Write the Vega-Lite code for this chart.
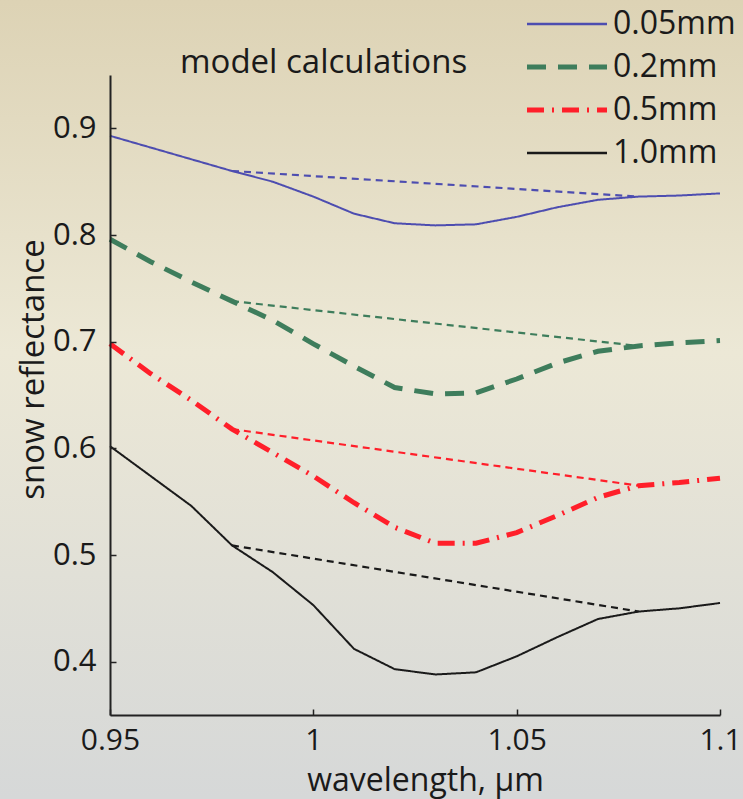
{
  "$schema": "https://vega.github.io/schema/vega-lite/v6.json",
  "autosize": {"type": "none"},
  "width": 610,
  "height": 640,
  "padding": {"left": 110, "top": 75, "right": 23, "bottom": 84},
  "background": "#e6e1cf",
  "title": {"text": "model calculations", "anchor": "start", "frame": "group", "dx": 70, "dy": 112, "offset": 0, "fontSize": 33, "fontWeight": "normal", "font": "Open Sans", "color": "#1a1a1a", "zindex": 2},
  "config": {
    "view": {"stroke": null},
    "font": "Open Sans",
    "axis": {"grid": false, "ticks": true, "domainColor": "#222222", "domainWidth": 2, "tickColor": "#222222", "tickWidth": 1.5, "labelColor": "#1a1a1a", "titleColor": "#1a1a1a", "labelFontSize": 31, "titleFontSize": 32, "titleFontWeight": "normal", "labelFont": "Open Sans", "titleFont": "Open Sans", "labelFlush": false}
  },
  "datasets": {
    "curves": [
      {"size": "0.05mm", "wl": 0.95, "r": 0.893}, {"size": "0.05mm", "wl": 0.96, "r": 0.882}, {"size": "0.05mm", "wl": 0.97, "r": 0.871}, {"size": "0.05mm", "wl": 0.98, "r": 0.86}, {"size": "0.05mm", "wl": 0.99, "r": 0.85}, {"size": "0.05mm", "wl": 1.0, "r": 0.836}, {"size": "0.05mm", "wl": 1.01, "r": 0.82}, {"size": "0.05mm", "wl": 1.02, "r": 0.811}, {"size": "0.05mm", "wl": 1.03, "r": 0.809}, {"size": "0.05mm", "wl": 1.04, "r": 0.81}, {"size": "0.05mm", "wl": 1.05, "r": 0.817}, {"size": "0.05mm", "wl": 1.06, "r": 0.826}, {"size": "0.05mm", "wl": 1.07, "r": 0.833}, {"size": "0.05mm", "wl": 1.08, "r": 0.836}, {"size": "0.05mm", "wl": 1.09, "r": 0.837}, {"size": "0.05mm", "wl": 1.1, "r": 0.839},
      {"size": "0.2mm", "wl": 0.95, "r": 0.796}, {"size": "0.2mm", "wl": 0.96, "r": 0.775}, {"size": "0.2mm", "wl": 0.97, "r": 0.756}, {"size": "0.2mm", "wl": 0.98, "r": 0.738}, {"size": "0.2mm", "wl": 0.99, "r": 0.72}, {"size": "0.2mm", "wl": 1.0, "r": 0.698}, {"size": "0.2mm", "wl": 1.01, "r": 0.677}, {"size": "0.2mm", "wl": 1.02, "r": 0.657}, {"size": "0.2mm", "wl": 1.03, "r": 0.651}, {"size": "0.2mm", "wl": 1.04, "r": 0.652}, {"size": "0.2mm", "wl": 1.05, "r": 0.665}, {"size": "0.2mm", "wl": 1.06, "r": 0.68}, {"size": "0.2mm", "wl": 1.07, "r": 0.691}, {"size": "0.2mm", "wl": 1.08, "r": 0.696}, {"size": "0.2mm", "wl": 1.09, "r": 0.699}, {"size": "0.2mm", "wl": 1.1, "r": 0.701},
      {"size": "0.5mm", "wl": 0.95, "r": 0.698}, {"size": "0.5mm", "wl": 0.96, "r": 0.67}, {"size": "0.5mm", "wl": 0.97, "r": 0.645}, {"size": "0.5mm", "wl": 0.98, "r": 0.618}, {"size": "0.5mm", "wl": 0.99, "r": 0.596}, {"size": "0.5mm", "wl": 1.0, "r": 0.574}, {"size": "0.5mm", "wl": 1.01, "r": 0.549}, {"size": "0.5mm", "wl": 1.02, "r": 0.526}, {"size": "0.5mm", "wl": 1.03, "r": 0.511}, {"size": "0.5mm", "wl": 1.04, "r": 0.511}, {"size": "0.5mm", "wl": 1.05, "r": 0.521}, {"size": "0.5mm", "wl": 1.06, "r": 0.537}, {"size": "0.5mm", "wl": 1.07, "r": 0.554}, {"size": "0.5mm", "wl": 1.08, "r": 0.565}, {"size": "0.5mm", "wl": 1.09, "r": 0.568}, {"size": "0.5mm", "wl": 1.1, "r": 0.572},
      {"size": "1.0mm", "wl": 0.95, "r": 0.602}, {"size": "1.0mm", "wl": 0.96, "r": 0.574}, {"size": "1.0mm", "wl": 0.97, "r": 0.546}, {"size": "1.0mm", "wl": 0.98, "r": 0.509}, {"size": "1.0mm", "wl": 0.99, "r": 0.484}, {"size": "1.0mm", "wl": 1.0, "r": 0.453}, {"size": "1.0mm", "wl": 1.01, "r": 0.412}, {"size": "1.0mm", "wl": 1.02, "r": 0.393}, {"size": "1.0mm", "wl": 1.03, "r": 0.388}, {"size": "1.0mm", "wl": 1.04, "r": 0.39}, {"size": "1.0mm", "wl": 1.05, "r": 0.405}, {"size": "1.0mm", "wl": 1.06, "r": 0.423}, {"size": "1.0mm", "wl": 1.07, "r": 0.44}, {"size": "1.0mm", "wl": 1.08, "r": 0.447}, {"size": "1.0mm", "wl": 1.09, "r": 0.45}, {"size": "1.0mm", "wl": 1.1, "r": 0.455}
    ],
    "continuum": [
      {"size": "0.05mm", "wl": 0.98, "r": 0.86}, {"size": "0.05mm", "wl": 1.08, "r": 0.836},
      {"size": "0.2mm", "wl": 0.98, "r": 0.738}, {"size": "0.2mm", "wl": 1.08, "r": 0.696},
      {"size": "0.5mm", "wl": 0.98, "r": 0.618}, {"size": "0.5mm", "wl": 1.08, "r": 0.565},
      {"size": "1.0mm", "wl": 0.98, "r": 0.509}, {"size": "1.0mm", "wl": 1.08, "r": 0.447}
    ]
  },
  "layer": [
    {
      "data": {"values": [{}]},
      "mark": {"type": "rect", "clip": false, "fill": {"gradient": "linear", "x1": 0, "y1": 0, "x2": 0, "y2": 1, "stops": [{"offset": 0, "color": "#dcd2b3"}, {"offset": 0.04, "color": "#ddd3b5"}, {"offset": 0.45, "color": "#ece8d6"}, {"offset": 0.97, "color": "#d6d8d8"}, {"offset": 1, "color": "#d6d8d8"}]}},
      "encoding": {
        "x": {"datum": 0.9, "type": "quantitative"},
        "x2": {"datum": 1.12},
        "y": {"datum": 1.05, "type": "quantitative"},
        "y2": {"datum": 0.25}
      }
    },
    {
      "data": {"name": "curves"},
      "mark": {"type": "line", "clip": false, "strokeWidth": {"expr": "datum.size == '0.2mm' || datum.size == '0.5mm' ? 5 : 2"}},
      "encoding": {
        "x": {"field": "wl", "type": "quantitative", "scale": {"domain": [0.95, 1.1], "nice": false, "zero": false},
          "axis": {"zindex": 3, "values": [0.95, 1, 1.05, 1.1], "format": "~g", "title": "wavelength, μm", "labelFontSize": 30, "tickSize": -6, "labelPadding": 16, "titleX": 315, "titleY": 75, "titleBaseline": "alphabetic", "orient": "bottom"}},
        "y": {"field": "r", "type": "quantitative", "scale": {"domain": [0.35, 0.95], "nice": false, "zero": false},
          "axis": {"zindex": 3, "values": [0.4, 0.5, 0.6, 0.7, 0.8, 0.9], "format": ".1f", "title": "snow reflectance", "titleFontSize": 33, "tickSize": -6, "labelPadding": 20, "titleX": -67, "titleY": 294, "titleBaseline": "alphabetic"}},
        "color": {"field": "size", "type": "nominal", "scale": {"domain": ["0.05mm", "0.2mm", "0.5mm", "1.0mm"], "range": ["#4d4db0", "#3e7d5c", "#ff1f2a", "#1a1a1a"]},
          "legend": {"orient": "none", "legendX": 441, "legendY": -67, "title": null, "symbolType": "M-4,0H4", "symbolSize": 400, "labelFontSize": 32, "labelFont": "Open Sans", "labelColor": "#1a1a1a", "rowPadding": 11, "labelOffset": 30, "padding": 0, "zindex": 2,
            "encode": {"symbols": {"update": {"strokeWidth": {"signal": "datum.value == '0.2mm' || datum.value == '0.5mm' ? 5 : 2.5"}}}}}},
        "strokeDash": {"field": "size", "type": "nominal", "scale": {"domain": ["0.05mm", "0.2mm", "0.5mm", "1.0mm"], "range": [[1, 0], [19, 12], [17, 8, 2, 8], [1, 0]]}}
      }
    },
    {
      "data": {"name": "continuum"},
      "mark": {"type": "line", "strokeDash": [7, 5], "strokeWidth": 2.2, "clip": false},
      "encoding": {
        "x": {"field": "wl", "type": "quantitative"},
        "y": {"field": "r", "type": "quantitative"},
        "detail": {"field": "size"},
        "stroke": {"field": "size", "type": "nominal", "scale": {"domain": ["0.05mm", "0.2mm", "0.5mm", "1.0mm"], "range": ["#4d4db0", "#3e7d5c", "#ff1f2a", "#1a1a1a"]}, "legend": null}
      }
    }
  ]
}
